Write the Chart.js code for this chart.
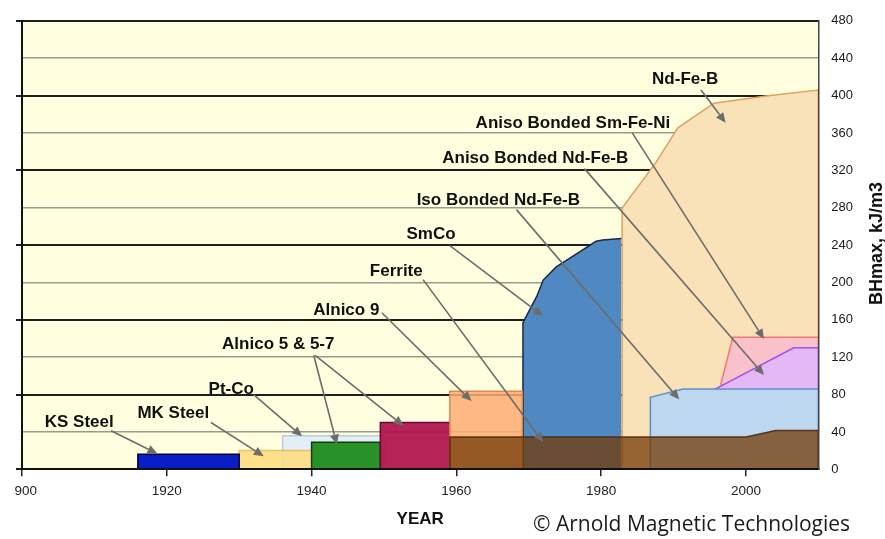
<!DOCTYPE html>
<html>
<head>
<meta charset="utf-8">
<script src="https://cdn.jsdelivr.net/npm/chart.js@4.4.1/dist/chart.umd.min.js"></script>
<style>
    html, body { margin: 0; padding: 0; background: #fff; }
    #wrap { position: relative; width: 885px; height: 539px; }
</style>
</head>
<body>
<div id="wrap"><canvas id="magnetChart" width="885" height="539"></canvas></div>
<script>
// tick labels
const yearTicks = [1900, 1920, 1940, 1960, 1980, 2000];
const bhTicks = [0, 40, 80, 120, 160, 200, 240, 280, 320, 360, 400, 440, 480];

// outline of every material: year and BHmax (kJ/m3) of its corners
const ksSteelYears = [1916, 1916, 1930, 1930];
const ksSteelBH = [0, 16, 16, 0];

const mkSteelYears = [1930, 1930, 1940, 1940];
const mkSteelBH = [0, 20, 20, 0];

const ptCoYears = [1936, 1936, 1950, 1950];
const ptCoBH = [0, 36, 36, 0];

const alnico5Years = [1940, 1940, 1949.5, 1949.5];
const alnico5BH = [0, 29, 29, 0];

const alnico57Years = [1949.5, 1949.5, 1959.1, 1959.1];
const alnico57BH = [0, 50, 50, 0];

const alnico9Years = [1959.1, 1959.1, 1969.1, 1969.1];
const alnico9BH = [0, 83.5, 83.5, 0];

const ferriteYears = [1959.1, 1959.1, 2000, 2004.1, 2010, 2010];
const ferriteBH = [0, 34.5, 34.5, 41.5, 41.5, 0];

const smCoYears = [1969.2, 1969.2, 1971.1, 1972.0, 1973.8, 1976.6, 1979.3, 1980.2, 1982.8, 1982.8];
const smCoBH = [0, 157, 185, 202.5, 216.6, 230.6, 244, 245.3, 247, 0];

const ndFeBYears = [1982.9, 1982.9, 1987.6, 1990.6, 1995.6, 2002.8, 2010, 2010];
const ndFeBBH = [0, 279.7, 328.7, 365.5, 391.8, 399.6, 405.9, 0];

const isoNdFeBYears = [1986.8, 1986.8, 1991.3, 2010, 2010];
const isoNdFeBBH = [0, 77, 86, 86, 0];

const anisoNdFeBYears = [1995.6, 2006.6, 2010, 2010];
const anisoNdFeBBH = [85.2, 130, 130, 0];

const anisoSmFeNiYears = [1996.5, 1998.2, 2010, 2010];
const anisoSmFeNiBH = [90.4, 141.2, 141.2, 0];

const pts = (xs, ys) => xs.map((x, i) => ({ x: x, y: ys[i] }));

function shape(label, xs, ys, fill, border, order, openRight) {
    const last = xs.length - 1;
    return {
        label: label,
        data: pts(xs, ys),
        backgroundColor: fill,
        borderColor: border,
        borderWidth: 1.5,
        fill: 'origin',
        order: order,
        pointRadius: 0,
        tension: 0,
        // some shapes have no outline on their right side
        segment: openRight ? { borderColor: c => c.p1DataIndex === last ? 'rgba(0,0,0,0)' : undefined } : undefined
    };
}

// callout text and arrows, placed in chart units (year, kJ/m3)
const callouts = [
    { text: 'KS Steel', at: [1907.9, 50.8], arrows: [[[1912.3, 41.3], [1918.7, 16.8]]] },
    { text: 'MK Steel', at: [1920.9, 60.3], arrows: [[[1926.1, 50.1], [1933.4, 14.0]]] },
    { text: 'Pt-Co', at: [1928.9, 85.5], arrows: [[[1932.0, 79.9], [1938.7, 35.3]]] },
    { text: 'Alnico 5 & 5-7', at: [1935.4, 133.3], arrows: [
        [[1940.3, 122], [1943.5, 26.6]],
        [[1940.5, 122], [1952.7, 46.6]]
    ] },
    { text: 'Alnico 9', at: [1944.8, 170.1], arrows: [[[1949.7, 167.5], [1962.1, 73.0]]] },
    { text: 'Ferrite', at: [1951.7, 211.7], arrows: [[[1955.4, 203], [1972.0, 29.0]]] },
    { text: 'SmCo', at: [1956.5, 251.6], arrows: [[[1959.1, 239.3], [1972.0, 164.0]]] },
    { text: 'Iso Bonded Nd-Fe-B', at: [1965.8, 288.4], arrows: [[[1968.3, 277.9], [1990.8, 74.7]]] },
    { text: 'Aniso Bonded Nd-Fe-B', at: [1970.9, 333.1], arrows: [[[1977.7, 321.8], [2002.5, 100.9]]] },
    { text: 'Aniso Bonded Sm-Fe-Ni', at: [1976.1, 369.9], arrows: [[[1984.3, 360], [2002.5, 139.4]]] },
    { text: 'Nd-Fe-B', at: [1991.6, 417.2], arrows: [[[1993.8, 405.9], [1997.2, 370.8]]] }
];

const SANS = '"Liberation Sans", Arial, sans-serif';
const TICK_SIZE = 13.5;
Chart.defaults.font.family = SANS;

function drawArrow(ctx, x1, y1, x2, y2) {
    const a = Math.atan2(y2 - y1, x2 - x1);
    const head = 10, half = 4.5;
    const cos = Math.cos(a), sin = Math.sin(a);
    ctx.strokeStyle = '#6c6c6c';
    ctx.fillStyle = '#6c6c6c';
    ctx.lineWidth = 1.6;
    ctx.beginPath();
    ctx.moveTo(x1, y1);
    ctx.lineTo(x2 - head * cos, y2 - head * sin);
    ctx.stroke();
    ctx.beginPath();
    ctx.moveTo(x2, y2);
    ctx.lineTo(x2 - head * cos + half * sin, y2 - head * sin - half * cos);
    ctx.lineTo(x2 - head * cos - half * sin, y2 - head * sin + half * cos);
    ctx.closePath();
    ctx.fill();
}

const paperPlugin = {
    id: 'paper',
    beforeDraw(chart) {
        const { ctx, chartArea: a } = chart;
        ctx.save();
        ctx.fillStyle = '#FFFFDF';
        ctx.fillRect(a.left, a.top, a.right - a.left, a.bottom - a.top);
        ctx.restore();
    },
    afterDatasetsDraw(chart) {
        const { ctx, scales: { x, y } } = chart;
        ctx.save();
        callouts.forEach(c => {
            c.arrows.forEach(([from, to]) => {
                drawArrow(ctx,
                    x.getPixelForValue(from[0]), y.getPixelForValue(from[1]),
                    x.getPixelForValue(to[0]), y.getPixelForValue(to[1]));
            });
        });
        ctx.font = 'bold 17px ' + SANS;
        ctx.fillStyle = '#111';
        ctx.textAlign = 'center';
        ctx.textBaseline = 'middle';
        callouts.forEach(c => {
            ctx.fillText(c.text, x.getPixelForValue(c.at[0]), y.getPixelForValue(c.at[1]));
        });
        ctx.restore();
    },
    afterDraw(chart) {
        const { ctx, chartArea: a, scales: { x } } = chart;
        ctx.save();
        // the source picture is cropped through the first year label: hide its leading "1"
        ctx.font = TICK_SIZE + 'px ' + SANS;
        const first = String(yearTicks[0]);
        const cut = x.getPixelForValue(yearTicks[0]) - ctx.measureText(first).width / 2 + ctx.measureText(first[0]).width;
        ctx.fillStyle = '#fff';
        ctx.fillRect(0, a.bottom + 9, cut, 24);

        ctx.fillStyle = '#111';
        ctx.font = 'bold 18px ' + SANS;
        ctx.textAlign = 'center';
        ctx.textBaseline = 'middle';
        ctx.translate(877, 243.5);
        ctx.rotate(-Math.PI / 2);
        ctx.fillText('BHmax, kJ/m3', 0, 0);
        ctx.setTransform(1, 0, 0, 1, 0, 0);

        ctx.font = '21px "Open Sans", "Noto Sans", sans-serif';
        ctx.fillStyle = '#1a1a1a';
        ctx.textAlign = 'left';
        ctx.textBaseline = 'alphabetic';
        ctx.fillText('\u00A9 Arnold Magnetic Technologies', 533, 531);
        ctx.restore();
    }
};

const major = v => v % 80 === 0;

new Chart(document.getElementById('magnetChart').getContext('2d'), {
    type: 'line',
    data: {
        datasets: [
            shape('Ferrite', ferriteYears, ferriteBH, 'rgba(115,58,5,0.75)', 'rgba(80,40,10,0.9)', 1),
            shape('Alnico 9', alnico9Years, alnico9BH, 'rgba(253,172,115,0.85)', '#E0884A', 2),
            shape('Alnico 5-7', alnico57Years, alnico57BH, 'rgba(176,16,76,0.92)', '#6A0A2A', 3),
            shape('Alnico 5', alnico5Years, alnico5BH, 'rgba(30,140,30,0.95)', '#0E3E0E', 4),
            shape('KS Steel', ksSteelYears, ksSteelBH, '#0A1EC8', '#000033', 5),
            shape('MK Steel', mkSteelYears, mkSteelBH, 'rgba(255,220,125,0.85)', 'rgba(230,180,80,0.8)', 6),
            shape('Pt-Co', ptCoYears, ptCoBH, '#E4EEF8', '#B8CCE0', 7),
            shape('Iso Bonded Nd-Fe-B', isoNdFeBYears, isoNdFeBBH, '#BDD7EF', '#5D8FD0', 8),
            shape('Aniso Bonded Nd-Fe-B', anisoNdFeBYears, anisoNdFeBBH, '#E4B8F6', '#A050E8', 9),
            shape('Aniso Bonded Sm-Fe-Ni', anisoSmFeNiYears, anisoSmFeNiBH, '#F9C2CA', '#F07878', 10),
            shape('SmCo', smCoYears, smCoBH, '#5088C2', '#1A2840', 11, true),
            shape('Nd-Fe-B', ndFeBYears, ndFeBBH, '#F9E1B8', '#E0A060', 12)
        ]
    },
    options: {
        responsive: false,
        animation: false,
        layout: { padding: { top: 12.7, left: 0, right: 0, bottom: 0 } },
        plugins: {
            legend: { display: false },
            tooltip: { enabled: false }
        },
        scales: {
            x: {
                type: 'linear',
                min: 1900,
                max: 2010,
                afterBuildTicks: s => { s.ticks = yearTicks.map(v => ({ value: v })); },
                afterFit: s => { s.height = 69.7; },
                ticks: {
                    callback: v => String(v),
                    color: '#222',
                    font: { size: TICK_SIZE },
                    padding: 7,
                    maxRotation: 0
                },
                grid: { drawOnChartArea: false, drawTicks: true, tickLength: 7, color: '#222', lineWidth: 1.5 },
                border: { color: '#111', width: 2, z: 1 },
                title: {
                    display: true,
                    text: 'YEAR',
                    color: '#111',
                    font: { size: 17, weight: 'bold' },
                    padding: { top: 4, bottom: 9 }
                }
            },
            y: {
                position: 'left',
                min: 0,
                max: 480,
                afterBuildTicks: s => { s.ticks = bhTicks.map(v => ({ value: v })); },
                afterFit: s => { s.width = 20.7; },
                ticks: { display: false },
                grid: {
                    color: c => major(c.tick.value) ? '#1e1e1e' : '#9a9a8e',
                    lineWidth: c => major(c.tick.value) ? 2 : 1.5,
                    tickColor: c => major(c.tick.value) ? '#1e1e1e' : 'rgba(0,0,0,0)',
                    tickLength: 6
                },
                border: { color: '#111', width: 2, z: 1 }
            },
            y2: {
                position: 'right',
                min: 0,
                max: 480,
                afterBuildTicks: s => { s.ticks = bhTicks.map(v => ({ value: v })); },
                afterFit: s => { s.width = 66.7; },
                ticks: { color: '#1a1a1a', font: { size: 13 }, padding: 13 },
                grid: { drawOnChartArea: false, drawTicks: false },
                border: { color: '#444', width: 1.5, z: 1 }
            }
        }
    },
    plugins: [paperPlugin]
});
</script>
</body>
</html>
